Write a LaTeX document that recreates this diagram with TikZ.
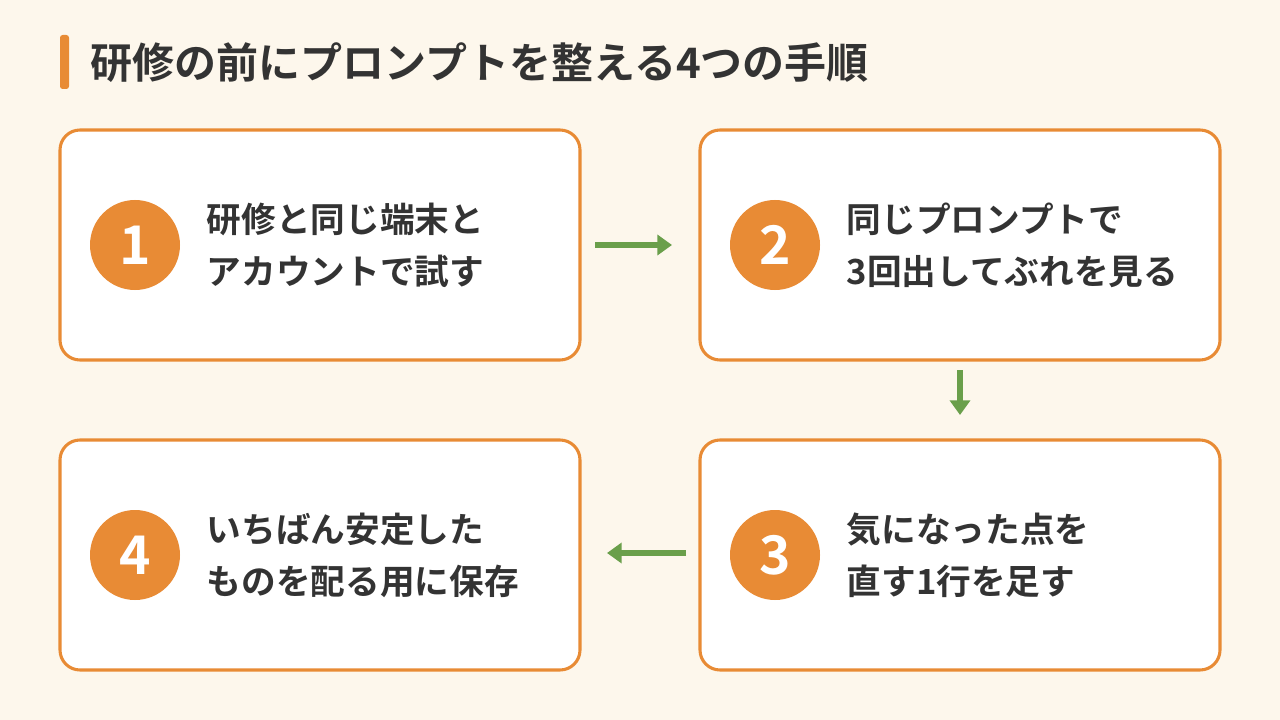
\documentclass[tikz,border=0pt]{standalone}
\usepackage{fontspec}
\newfontfamily\cjk{Noto Sans CJK JP}[UprightFont=* Bold]
\usetikzlibrary{arrows.meta}
\definecolor{bg}{HTML}{FDF7EC}
\definecolor{org}{HTML}{E88B35}
\definecolor{grn}{HTML}{6A9F4B}
\definecolor{txt}{HTML}{333333}
\begin{document}
\begin{tikzpicture}[x=0.75pt,y=-0.75pt,
 box/.style={draw=org,line width=2.3pt,fill=white,rounded corners=15pt,minimum width=390pt,minimum height=172.5pt,inner sep=0},
 num/.style={circle,fill=org,minimum size=67.5pt,inner sep=0,text=white,font=\cjk\fontsize{40}{40}\selectfont},
 lab/.style={anchor=west,align=left,text=txt,font=\cjk\fontsize{26}{39}\selectfont},
 arr/.style={draw=grn,line width=5pt,-{Triangle[length=11pt,width=15pt]}}]
\fill[bg] (0,0) rectangle (1280,720);
\fill[org,rounded corners=2pt] (60,35) rectangle (69,89);
\node[anchor=west,text=txt,font=\cjk\fontsize{31.5}{31.5}\selectfont] (title) at (86,63) {研修の前にプロンプトを整える4つの手順};
\node[box] (b1) at (320,245) {};
\node[box] (b2) at (960,245) {};
\node[box] (b3) at (960,555) {};
\node[box] (b4) at (320,555) {};
\node[num] (n1) at (135,245) {1};
\node[num] (n2) at (775,245) {2};
\node[num] (n3) at (775,555) {3};
\node[num] (n4) at (135,555) {4};
\node[lab] (t1) at (202,245) {研修と同じ端末と\\アカウントで試す};
\node[lab] (t2) at (842,245) {同じプロンプトで\\3回出してぶれを見る};
\node[lab] (t3) at (842,555) {気になった点を\\直す1行を足す};
\node[lab] (t4) at (202,555) {いちばん安定した\\ものを配る用に保存};
\coordinate (a1s) at (595,245); \coordinate (a1e) at (672,245);
\coordinate (a2s) at (960,370); \coordinate (a2e) at (960,415);
\coordinate (a3s) at (686,553); \coordinate (a3e) at (607,553);
\draw[arr] (a1s) -- (a1e);
\draw[arr] (a2s) -- (a2e);
\draw[arr] (a3s) -- (a3e);
\end{tikzpicture}
\end{document}
